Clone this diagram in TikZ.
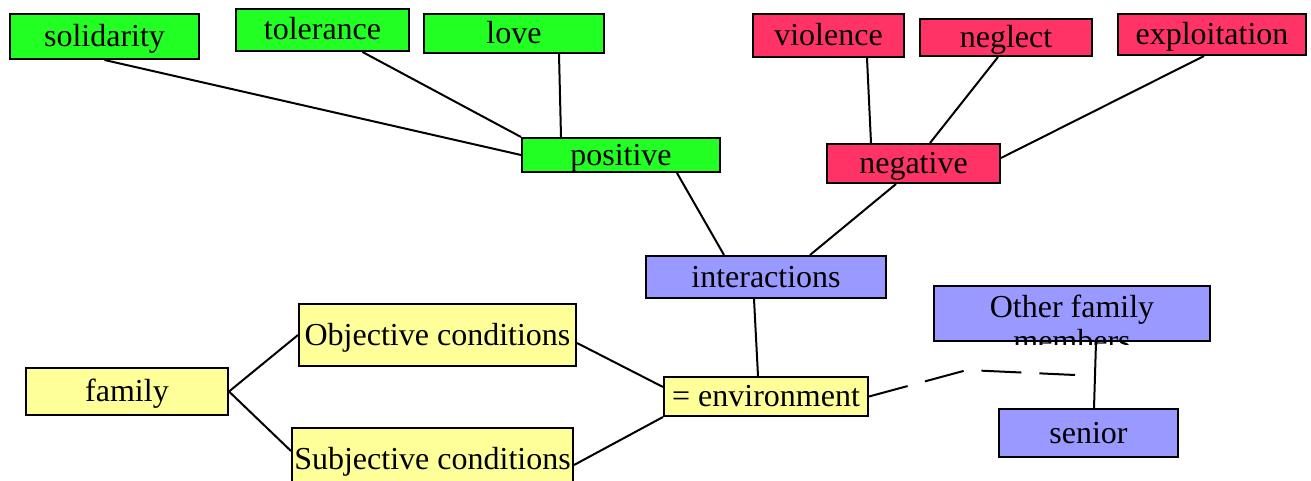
\documentclass[tikz,border=0pt]{standalone}
\usepackage{fontspec}
\setmainfont{Liberation Serif}
\definecolor{posgreen}{RGB}{34,255,34}
\definecolor{negred}{RGB}{255,51,102}
\definecolor{relblue}{RGB}{153,153,255}
\definecolor{envyellow}{RGB}{255,255,153}
\begin{document}
\begin{tikzpicture}[x=0.5pt,y=-0.5pt,
  box/.style={draw, line width=1pt, inner sep=0pt, text height=13.5pt, text depth=3.5pt, font=\fontsize{16}{17}\selectfont},
  posbox/.style={box, fill=posgreen},
  negbox/.style={box, fill=negred},
  relbox/.style={box, fill=relblue},
  envbox/.style={box, fill=envyellow},
  link/.style={line width=1pt}]
\useasboundingbox (0,0) rectangle (1311,481);
% positive side
\node[posbox, minimum width=94.5pt, minimum height=22.5pt] (solidarity) at (104.5,36.5) {solidarity};
\node[posbox, minimum width=86.5pt, minimum height=21pt] (tolerance) at (322.5,30) {tolerance};
\node[posbox, minimum width=90pt, minimum height=19.5pt] (love) at (514,33.5) {love};
\node[posbox, minimum width=99pt, minimum height=17pt] (positive) at (621,155) {positive};
% negative side
\node[negbox, minimum width=75.5pt, minimum height=21.5pt] (violence) at (828.5,35.5) {violence};
\node[negbox, minimum width=86pt, minimum height=18.5pt] (neglect) at (1006,37.5) {neglect};
\node[negbox, minimum width=94pt, minimum height=20.5pt] (exploitation) at (1212,34.5) {exploitation};
\node[negbox, minimum width=86.5pt, minimum height=19.5pt] (negative) at (913.5,163.5) {negative};
% relations
\node[relbox, minimum width=120pt, minimum height=21pt] (interactions) at (766,277) {interactions};
\node[relbox, minimum width=138pt, minimum height=27.5pt] (other) at (1072,313.5) {};
\begin{scope}
\clip (other.north west) rectangle ([yshift=-1pt]other.south east);
\node[inner sep=0pt, anchor=north, align=center, font=\fontsize{16}{17}\selectfont] (othertext) at (1072,295) {Other family\\members};
\end{scope}
\node[relbox, minimum width=89.5pt, minimum height=24pt] (senior) at (1088.5,433) {senior};
% environment
\node[envbox, minimum width=101pt, minimum height=23.5pt] (family) at (127,391.5) {family};
\node[envbox, minimum width=138.5pt, minimum height=31pt] (objective) at (437.5,335) {Objective conditions};
\node[envbox, minimum width=140.5pt, minimum height=31pt] (subjective) at (432.5,459) {Subjective conditions};
\node[envbox, minimum width=102pt, minimum height=19.5pt] (environment) at (766,396.5) {= environment};
% links
\draw[link] (solidarity.south) -- (positive.west);
\draw[link] ([xshift=20pt]tolerance.south) -- (positive.north west);
\draw[link] ([xshift=22.5pt]love.south) -- ([xshift=-30pt]positive.north);
\draw[link] ([xshift=28pt]positive.south) -- ([xshift=-21pt]interactions.north);
\draw[link] ([xshift=19.25pt]violence.south) -- ([xshift=-21.25pt]negative.north);
\draw[link] ([xshift=-4pt]neglect.south) -- ([xshift=8.25pt]negative.north);
\draw[link] ([xshift=-4pt]exploitation.south) -- ([yshift=2.75pt]negative.east);
\draw[link] ([xshift=-8.75pt]negative.south) -- ([xshift=22pt]interactions.north);
\draw[link] ([xshift=-6pt]interactions.south) -- ([xshift=-4pt]environment.north);
\draw[link] (family.east) -- (objective.west);
\draw[link] (family.east) -- ([yshift=4pt]subjective.west);
\draw[link] ([yshift=-4pt]objective.east) -- ([yshift=4.75pt]environment.west);
\draw[link] ([yshift=-3pt]subjective.east) -- (environment.south west);
\draw[link] ([xshift=12pt]other.south) -- ([xshift=2.75pt]senior.north);
\coordinate (dashend) at (1075,375);
\draw[link, dash pattern=on 20pt off 9pt] (environment.east) -- (967,370) -- (dashend);
\end{tikzpicture}
\end{document}
